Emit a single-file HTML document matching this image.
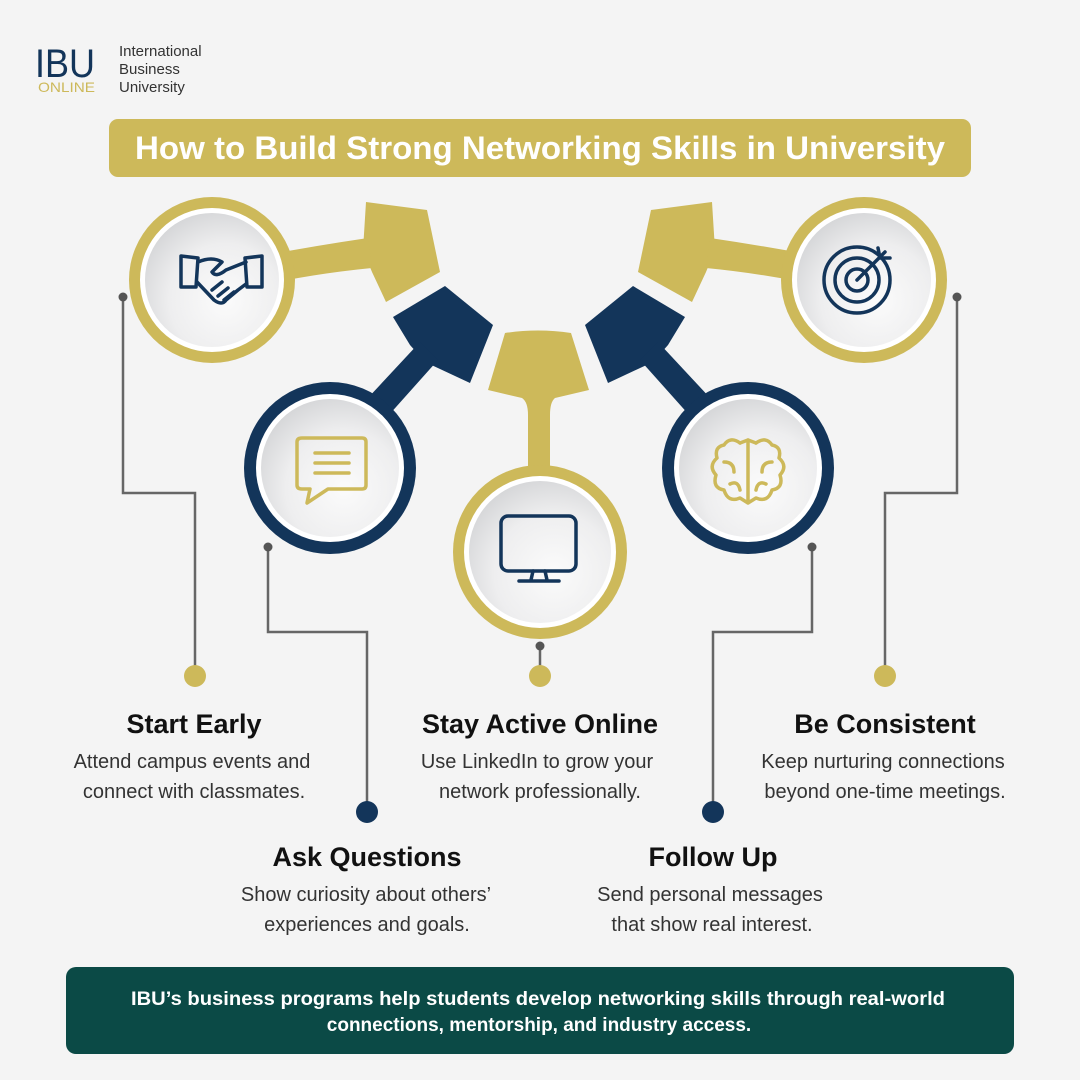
<!DOCTYPE html>
<html><head><meta charset="utf-8"><style>
body{margin:0;background:#f4f4f4;}
svg{display:block}
</style></head><body>
<svg width="1080" height="1080" viewBox="0 0 1080 1080" xmlns="http://www.w3.org/2000/svg" font-family="Liberation Sans, sans-serif">
<defs>
<radialGradient id="disc" cx="0.6" cy="0.65" r="0.7">
<stop offset="0" stop-color="#fbfbfb"/><stop offset="0.6" stop-color="#eeeeef"/><stop offset="1" stop-color="#d4d5d7"/>
</radialGradient>
<g id="tooth1">
<polygon points="366,202 427,210 440,272 386,302 372,272 363,250" fill="#cdb95a"/>
<path d="M230,262 Q300,248 368,238 L372,268 Q300,275 232,292 Z" fill="#cdb95a"/>
</g>
<g id="tooth2">
<polygon points="393,317 445,286 493,325 470,383 425,362 410,345" fill="#13355a"/>
<path d="M420,342 L438,360 L388,416 L366,400 Z" fill="#13355a"/>
</g>
</defs>
<rect width="1080" height="1080" fill="#f4f4f4"/>

<text x="35" y="77" font-size="40" fill="#13355a" textLength="60" lengthAdjust="spacingAndGlyphs">IBU</text>
<text x="38" y="92" font-size="14" fill="#cdb95a" textLength="57" lengthAdjust="spacingAndGlyphs">ONLINE</text>
<text x="119" y="56" font-size="15" fill="#333">International</text>
<text x="119" y="74" font-size="15" fill="#333">Business</text>
<text x="119" y="92" font-size="15" fill="#333">University</text>

<rect x="109" y="119" width="862" height="58" rx="9" fill="#cdb95a"/>
<text x="540" y="159" font-size="32" font-weight="bold" fill="#fff" text-anchor="middle" textLength="810" lengthAdjust="spacingAndGlyphs">How to Build Strong Networking Skills in University</text>

<use href="#tooth1"/>
<use href="#tooth2"/>
<g transform="translate(1078,0) scale(-1,1)">
<use href="#tooth1"/>
<use href="#tooth2"/>
</g>
<path d="M505,333 Q538,328 571,333 L589,390 L555,398 Q550,402 550,415 L550,470 L528,470 L528,415 Q528,402 522,398 L488,390 Z" fill="#cdb95a"/>

<g>
<circle cx="212" cy="280" r="83" fill="#cdb95a"/><circle cx="212" cy="280" r="72" fill="#fff"/><circle cx="212" cy="280" r="67" fill="url(#disc)"/>
<circle cx="330" cy="468" r="86" fill="#13355a"/><circle cx="330" cy="468" r="74" fill="#fff"/><circle cx="330" cy="468" r="69" fill="url(#disc)"/>
<circle cx="540" cy="552" r="87" fill="#cdb95a"/><circle cx="540" cy="552" r="76" fill="#fff"/><circle cx="540" cy="552" r="71" fill="url(#disc)"/>
<circle cx="748" cy="468" r="86" fill="#13355a"/><circle cx="748" cy="468" r="74" fill="#fff"/><circle cx="748" cy="468" r="69" fill="url(#disc)"/>
<circle cx="864" cy="280" r="83" fill="#cdb95a"/><circle cx="864" cy="280" r="72" fill="#fff"/><circle cx="864" cy="280" r="67" fill="url(#disc)"/>
</g>

<g fill="none" stroke="#13355a" stroke-width="3.5" stroke-linejoin="round" stroke-linecap="round">
<polygon points="181,256 198,258 196,287 181,287"/>
<polygon points="262,256 245,258 247,287 262,287"/>
<path d="M198,262 Q212,256 222,262 L212,272 Q216,278 226,270 L236,266 L246,262"/>
<path d="M197,282 L214,300 Q222,306 226,300 L238,290 L246,284"/>
<path d="M218,296 L228,288 M224,300 L234,292 M212,290 L222,282"/>
<rect x="501" y="516" width="75" height="55" rx="7"/>
<path d="M533,571 L531,580 M545,571 L547,580 M519,581 L559,581"/>
<circle cx="857" cy="280" r="33"/><circle cx="857" cy="280" r="22"/><circle cx="857" cy="280" r="11"/>
<path d="M857,280 L885,252 M878,248 L880,258 L890,258"/>
</g>
<g fill="none" stroke="#cdb95a" stroke-width="3.5" stroke-linejoin="round" stroke-linecap="round">
<path d="M302,438 L362,438 Q366,438 366,442 L366,485 Q366,489 362,489 L328,489 L307,503 L310,489 L302,489 Q297,489 297,485 L297,442 Q297,438 302,438 Z"/>
<path d="M315,453 L349,453 M315,463 L349,463 M315,473 L349,473"/>
<path d="M748,440 L748,503 M740,443 Q730,436 724,445 Q714,447 717,458 Q708,466 716,475 Q712,488 724,490 Q728,503 740,498 L748,503 M756,443 Q766,436 772,445 Q782,447 779,458 Q788,466 780,475 Q784,488 772,490 Q768,503 756,498 L748,503"/>
<path d="M740,443 L748,440 L756,443 M724,462 Q734,462 734,472 M772,462 Q762,462 762,472 M730,484 Q738,480 740,490 M766,484 Q758,480 756,490"/>
</g>

<g fill="none" stroke="#666" stroke-width="2.5">
<path d="M123,297 L123,493 L195,493 L195,676"/>
<path d="M268,547 L268,632 L367,632 L367,812"/>
<path d="M540,646 L540,676"/>
<path d="M957,297 L957,493 L885,493 L885,676"/>
<path d="M812,547 L812,632 L713,632 L713,812"/>
</g>
<g fill="#555">
<circle cx="123" cy="297" r="4.5"/><circle cx="268" cy="547" r="4.5"/><circle cx="540" cy="646" r="4.5"/><circle cx="957" cy="297" r="4.5"/><circle cx="812" cy="547" r="4.5"/>
</g>
<g fill="#cdb95a"><circle cx="195" cy="676" r="11"/><circle cx="540" cy="676" r="11"/><circle cx="885" cy="676" r="11"/></g>
<g fill="#13355a"><circle cx="367" cy="812" r="11"/><circle cx="713" cy="812" r="11"/></g>

<g text-anchor="middle" fill="#111">
<text x="194" y="733" font-size="27" font-weight="bold">Start Early</text>
<text x="540" y="733" font-size="27" font-weight="bold">Stay Active Online</text>
<text x="885" y="733" font-size="27" font-weight="bold">Be Consistent</text>
<text x="367" y="866" font-size="27" font-weight="bold">Ask Questions</text>
<text x="713" y="866" font-size="27" font-weight="bold">Follow Up</text>
</g>
<g text-anchor="middle" fill="#333" font-size="20">
<text x="192" y="768">Attend campus events and</text>
<text x="194" y="798">connect with classmates.</text>
<text x="537" y="768">Use LinkedIn to grow your</text>
<text x="540" y="798">network professionally.</text>
<text x="883" y="768">Keep nurturing connections</text>
<text x="885" y="798">beyond one-time meetings.</text>
<text x="366" y="901">Show curiosity about others’</text>
<text x="367" y="931">experiences and goals.</text>
<text x="710" y="901">Send personal messages</text>
<text x="712" y="931">that show real interest.</text>
</g>

<rect x="66" y="967" width="948" height="87" rx="10" fill="#0b4a46"/>
<g text-anchor="middle" fill="#fff" font-size="19" font-weight="bold">
<text x="538" y="1005" textLength="814" lengthAdjust="spacingAndGlyphs">IBU’s business programs help students develop networking skills through real-world</text>
<text x="539" y="1031">connections, mentorship, and industry access.</text>
</g>
</svg>
</body></html>
